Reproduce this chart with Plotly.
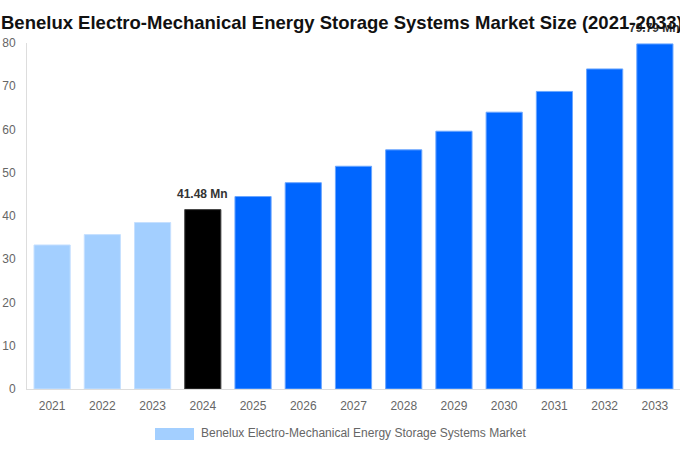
import plotly.graph_objects as go

years = [str(y) for y in range(2021, 2034)]
values = [33.3, 35.7, 38.5, 41.48, 44.5, 47.7, 51.5, 55.3, 59.6, 64.0, 68.8, 74.0, 79.79]
series_name = "Benelux Electro-Mechanical Energy Storage Systems Market"
title_text = "Benelux Electro-Mechanical Energy Storage Systems Market Size (2021-2033)"
labelled = {"2024": "41.48 Mn", "2033": "79.79 Mn"}

light_blue = "#a3cfff"
blue = "#0066ff"
colors = [light_blue] * 3 + ["#000000"] + [blue] * 9
edges = ["#c6e0ff"] * 3 + ["#444444"] + ["#6aa6ff"] * 9

fig = go.Figure()
fig.add_trace(go.Bar(
    x=years,
    y=values,
    name=series_name,
    marker=dict(color=colors, line=dict(color=edges, width=1)),
    width=0.72,
    showlegend=False,
    hoverinfo="skip",
))

# value labels; category index keeps the axis from treating "2024" as a number
for i, (yr, val) in enumerate(zip(years, values)):
    if yr in labelled:
        fig.add_annotation(
            x=i, y=val, text="<b>%s</b>" % labelled[yr],
            showarrow=False, yanchor="bottom", yshift=7,
            font=dict(size=12, color="#333333", family="Liberation Sans"),
        )

# pixel -> paper helpers for the plot area (27..680 wide, 43..389 tall)
plot_w, plot_h = 653.0, 346.0
px = lambda p: (p - 27) / plot_w
py = lambda p: (389 - p) / plot_h

# title as annotation so it can hug the left edge like the original
fig.add_annotation(
    xref="paper", yref="paper", x=px(-1), y=py(22),
    xanchor="left", yanchor="middle", showarrow=False,
    text="<b>%s</b>" % title_text,
    font=dict(size=18.5, color="#111111", family="Liberation Sans"),
)

# legend drawn by hand so the swatch is the wide rectangle of the original
fig.add_shape(
    type="rect", xref="paper", yref="paper",
    x0=px(155), x1=px(194), y0=py(440), y1=py(428),
    fillcolor=light_blue, line=dict(width=0),
)
fig.add_annotation(
    xref="paper", yref="paper", x=px(199), y=py(433),
    xanchor="left", yanchor="middle", showarrow=False,
    text=series_name, font=dict(size=12, color="#666666"),
)

fig.update_layout(
    width=680,
    height=450,
    margin=dict(l=27, r=0, t=43, b=61),
    paper_bgcolor="white",
    plot_bgcolor="white",
    font=dict(family="Liberation Sans", size=12, color="#666666"),
    showlegend=False,
    xaxis=dict(
        type="category",
        range=[-0.5, len(years) - 0.5],
        automargin=False,
        showline=True, linecolor="#dddddd", linewidth=1,
        ticks="outside", ticklen=6, tickcolor="rgba(0,0,0,0)",
        tickfont=dict(size=12, color="#666666"),
    ),
    yaxis=dict(
        automargin=False,
        range=[0, 80], dtick=10,
        showgrid=False, showline=True, linecolor="#dddddd", linewidth=1,
        zeroline=False,
        ticks="outside", ticklen=8, tickcolor="rgba(0,0,0,0)",
        tickfont=dict(size=12, color="#666666"),
    ),
)

# drop the browser's default body margin so the figure sits at the window origin
fig.write_html(
    "out.html",
    config={"displayModeBar": False},
    post_script="document.body.style.margin='0';",
)
